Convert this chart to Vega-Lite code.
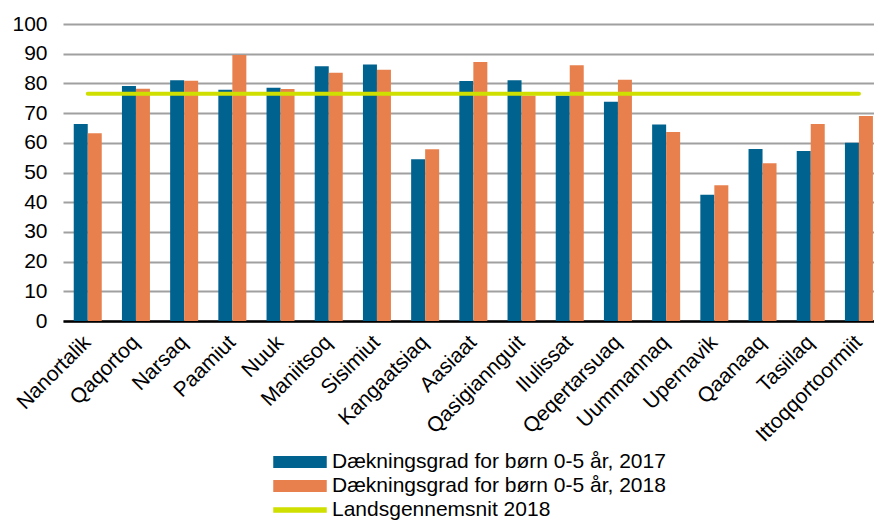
{
  "$schema": "https://vega.github.io/schema/vega-lite/v6.json",
  "width": 811,
  "height": 297,
  "autosize": {"type": "none"},
  "padding": {"left": 63, "top": 24, "right": 0, "bottom": 199},
  "background": "white",
  "config": {
    "font": "Liberation Sans",
    "view": {"stroke": null},
    "axis": {"labelFont": "Liberation Sans", "labelFontSize": 21, "labelColor": "#000000"},
    "legend": {"labelFont": "Liberation Sans", "labelFontSize": 21, "labelColor": "#000000"}
  },
  "datasets": {
    "bars": [
      {"town": "Nanortalik", "series": "Dækningsgrad for børn 0-5 år, 2017", "value": 66.3},
      {"town": "Nanortalik", "series": "Dækningsgrad for børn 0-5 år, 2018", "value": 63.2},
      {"town": "Qaqortoq", "series": "Dækningsgrad for børn 0-5 år, 2017", "value": 79.1},
      {"town": "Qaqortoq", "series": "Dækningsgrad for børn 0-5 år, 2018", "value": 78.2},
      {"town": "Narsaq", "series": "Dækningsgrad for børn 0-5 år, 2017", "value": 81.1},
      {"town": "Narsaq", "series": "Dækningsgrad for børn 0-5 år, 2018", "value": 80.9},
      {"town": "Paamiut", "series": "Dækningsgrad for børn 0-5 år, 2017", "value": 77.9},
      {"town": "Paamiut", "series": "Dækningsgrad for børn 0-5 år, 2018", "value": 89.6},
      {"town": "Nuuk", "series": "Dækningsgrad for børn 0-5 år, 2017", "value": 78.5},
      {"town": "Nuuk", "series": "Dækningsgrad for børn 0-5 år, 2018", "value": 78.1},
      {"town": "Maniitsoq", "series": "Dækningsgrad for børn 0-5 år, 2017", "value": 85.8},
      {"town": "Maniitsoq", "series": "Dækningsgrad for børn 0-5 år, 2018", "value": 83.6},
      {"town": "Sisimiut", "series": "Dækningsgrad for børn 0-5 år, 2017", "value": 86.4},
      {"town": "Sisimiut", "series": "Dækningsgrad for børn 0-5 år, 2018", "value": 84.6},
      {"town": "Kangaatsiaq", "series": "Dækningsgrad for børn 0-5 år, 2017", "value": 54.5},
      {"town": "Kangaatsiaq", "series": "Dækningsgrad for børn 0-5 år, 2018", "value": 57.8},
      {"town": "Aasiaat", "series": "Dækningsgrad for børn 0-5 år, 2017", "value": 80.8},
      {"town": "Aasiaat", "series": "Dækningsgrad for børn 0-5 år, 2018", "value": 87.2},
      {"town": "Qasigiannguit", "series": "Dækningsgrad for børn 0-5 år, 2017", "value": 81.1},
      {"town": "Qasigiannguit", "series": "Dækningsgrad for børn 0-5 år, 2018", "value": 75.9},
      {"town": "Ilulissat", "series": "Dækningsgrad for børn 0-5 år, 2017", "value": 75.9},
      {"town": "Ilulissat", "series": "Dækningsgrad for børn 0-5 år, 2018", "value": 86.1},
      {"town": "Qeqertarsuaq", "series": "Dækningsgrad for børn 0-5 år, 2017", "value": 73.8},
      {"town": "Qeqertarsuaq", "series": "Dækningsgrad for børn 0-5 år, 2018", "value": 81.2},
      {"town": "Uummannaq", "series": "Dækningsgrad for børn 0-5 år, 2017", "value": 66.2},
      {"town": "Uummannaq", "series": "Dækningsgrad for børn 0-5 år, 2018", "value": 63.6},
      {"town": "Upernavik", "series": "Dækningsgrad for børn 0-5 år, 2017", "value": 42.5},
      {"town": "Upernavik", "series": "Dækningsgrad for børn 0-5 år, 2018", "value": 45.7},
      {"town": "Qaanaaq", "series": "Dækningsgrad for børn 0-5 år, 2017", "value": 57.9},
      {"town": "Qaanaaq", "series": "Dækningsgrad for børn 0-5 år, 2018", "value": 53.1},
      {"town": "Tasiilaq", "series": "Dækningsgrad for børn 0-5 år, 2017", "value": 57.2},
      {"town": "Tasiilaq", "series": "Dækningsgrad for børn 0-5 år, 2018", "value": 66.3},
      {"town": "Ittoqqortoormiit", "series": "Dækningsgrad for børn 0-5 år, 2017", "value": 60.0},
      {"town": "Ittoqqortoormiit", "series": "Dækningsgrad for børn 0-5 år, 2018", "value": 69.0}
    ],
    "avg": [
      {"town": "Nanortalik", "series": "Landsgennemsnit 2018", "value": 76.5},
      {"town": "Qaqortoq", "series": "Landsgennemsnit 2018", "value": 76.5},
      {"town": "Narsaq", "series": "Landsgennemsnit 2018", "value": 76.5},
      {"town": "Paamiut", "series": "Landsgennemsnit 2018", "value": 76.5},
      {"town": "Nuuk", "series": "Landsgennemsnit 2018", "value": 76.5},
      {"town": "Maniitsoq", "series": "Landsgennemsnit 2018", "value": 76.5},
      {"town": "Sisimiut", "series": "Landsgennemsnit 2018", "value": 76.5},
      {"town": "Kangaatsiaq", "series": "Landsgennemsnit 2018", "value": 76.5},
      {"town": "Aasiaat", "series": "Landsgennemsnit 2018", "value": 76.5},
      {"town": "Qasigiannguit", "series": "Landsgennemsnit 2018", "value": 76.5},
      {"town": "Ilulissat", "series": "Landsgennemsnit 2018", "value": 76.5},
      {"town": "Qeqertarsuaq", "series": "Landsgennemsnit 2018", "value": 76.5},
      {"town": "Uummannaq", "series": "Landsgennemsnit 2018", "value": 76.5},
      {"town": "Upernavik", "series": "Landsgennemsnit 2018", "value": 76.5},
      {"town": "Qaanaaq", "series": "Landsgennemsnit 2018", "value": 76.5},
      {"town": "Tasiilaq", "series": "Landsgennemsnit 2018", "value": 76.5},
      {"town": "Ittoqqortoormiit", "series": "Landsgennemsnit 2018", "value": 76.5}
    ]
  },
  "encoding": {
    "x": {
      "field": "town",
      "type": "nominal",
      "sort": null,
      "title": null,
      "scale": {"paddingInner": 0.419, "paddingOuter": 0.1225, "align": 0.91},
      "axis": {
        "labelAngle": -45,
        "labelAlign": "right",
        "labelBaseline": "middle",
        "labelPadding": 18,
        "ticks": false,
        "domainColor": "#000000",
        "domainWidth": 2.5,
        "grid": false,
        "labelOverlap": false
      }
    },
    "y": {
      "field": "value",
      "type": "quantitative",
      "title": null,
      "scale": {"domain": [0, 100], "nice": false},
      "axis": {
        "values": [0, 10, 20, 30, 40, 50, 60, 70, 80, 90, 100],
        "domain": false,
        "ticks": false,
        "labelPadding": 16,
        "gridColor": "#a0a0a0",
        "gridWidth": 2
      }
    },
    "color": {
      "field": "series",
      "type": "nominal",
      "title": null,
      "scale": {
        "domain": ["Dækningsgrad for børn 0-5 år, 2017", "Dækningsgrad for børn 0-5 år, 2018", "Landsgennemsnit 2018"],
        "range": ["#00628f", "#e8804e", "#cfe000"]
      },
      "legend": {
        "orient": "none",
        "legendX": 210,
        "legendY": 428,
        "direction": "vertical",
        "columns": 1,
        "rowPadding": 3,
        "clipHeight": 20,
        "labelLimit": 0,
        "symbolSize": 2704,
        "labelOffset": 5,
        "encode": {
          "symbols": {
            "update": {
              "shape": {"signal": "datum.value === 'Landsgennemsnit 2018' ? 'M-1,-0.08L1,-0.08L1,0.08L-1,0.08Z' : 'M-1,-0.2L1,-0.2L1,0.2L-1,0.2Z'"},
              "fill": {"scale": "color", "field": "value"},
              "stroke": {"value": "transparent"},
              "opacity": {"value": 1},
              "fillOpacity": {"value": 1}
            }
          }
        }
      }
    }
  },
  "layer": [
    {
      "data": {"name": "bars"},
      "mark": {"type": "bar"},
      "encoding": {
        "xOffset": {"field": "series", "type": "nominal", "scale": {"paddingInner": 0, "paddingOuter": 0}}
      }
    },
    {
      "data": {"name": "avg"},
      "mark": {"type": "line", "strokeWidth": 4, "strokeCap": "round"},
      "encoding": {}
    }
  ]
}
